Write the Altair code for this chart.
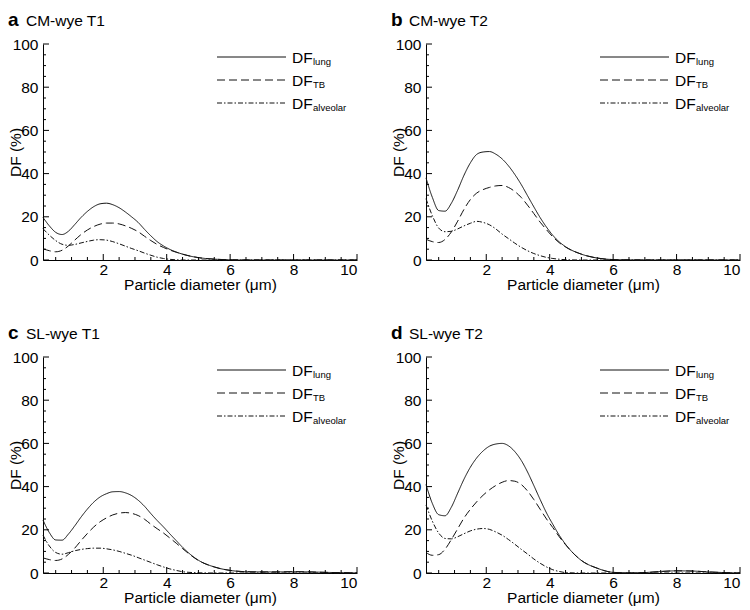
import altair as alt
import pandas as pd

# ---------------- data ----------------
X = [0.1, 0.3, 0.5, 0.7, 0.9, 1.1, 1.3, 1.5, 1.7, 1.9, 2.1, 2.3, 2.5, 2.7, 2.9,
     3.1, 3.3, 3.5, 3.7, 3.9, 4.1, 4.3, 4.5, 5.0, 5.5, 6.0, 6.5, 7.0, 7.5, 8.0,
     8.5, 9.0, 9.5, 10.0]

lung_a = [19.7, 15.8, 12.8, 11.8, 13.3, 16.4, 19.7, 22.5, 24.7, 26.0, 26.3, 25.6, 24.2, 22.2, 19.9,
          17.4, 14.2, 11.2, 8.5, 6.5, 4.9, 3.7, 2.7, 1.1, 0.4, 0.1, 0, 0, 0, 0, 0, 0, 0, 0]
tb_a = [5.2, 4.3, 3.8, 4.5, 6.5, 9.2, 11.8, 13.9, 15.5, 16.6, 17.1, 17.1, 16.7, 15.8, 14.6,
        13.1, 11.0, 9.0, 7.2, 5.8, 4.6, 3.6, 2.7, 1.1, 0.4, 0.1, 0, 0, 0, 0, 0, 0, 0, 0]
alv_a = [14.5, 11.5, 9.0, 7.3, 6.8, 7.2, 7.9, 8.6, 9.2, 9.4, 9.2, 8.5, 7.5, 6.4, 5.3,
         4.3, 3.2, 2.2, 1.3, 0.7, 0.3, 0.1, 0.0, 0, 0, 0, 0, 0, 0, 0, 0, 0, 0, 0]

lung_b = [38.0, 29.0, 22.9, 22.6, 26.3, 32.4, 39.3, 45.0, 48.9, 50.0, 50.2, 49.0, 46.8, 43.6, 39.6,
          35.0, 29.8, 24.6, 19.6, 15.2, 11.4, 8.4, 6.15, 2.7, 0.9, 0.2, 0.05, 0, 0, 0, 0, 0, 0, 0]
tb_b = [9.6, 8.5, 8.1, 9.5, 13.0, 18.0, 23.5, 28.0, 31.0, 32.6, 33.6, 34.3, 34.5, 33.6, 31.7,
        29.0, 25.4, 21.5, 17.5, 14.0, 10.7, 8.0, 6.0, 2.7, 0.9, 0.2, 0.05, 0, 0, 0, 0, 0, 0, 0]
alv_b = [28.4, 20.5, 14.8, 13.1, 13.3, 14.4, 15.8, 17.0, 17.9, 17.4, 16.3, 14.4, 12.0, 9.9, 7.8,
         5.9, 4.3, 3.0, 2.0, 1.2, 0.7, 0.35, 0.15, 0, 0, 0, 0, 0, 0, 0, 0, 0, 0, 0]

lung_c = [24.5, 18.7, 15.3, 15.2, 18.0, 21.8, 25.9, 29.6, 32.8, 35.2, 36.7, 37.6, 37.7, 37.1, 35.8,
          33.7, 30.9, 27.5, 24.3, 21.3, 18.1, 15.0, 11.9, 5.9, 2.8, 1.2, 0.6, 0.5, 0.5, 0.6, 0.5, 0.3, 0.15, 0.05]
tb_c = [7.0, 6.2, 5.8, 6.5, 8.6, 11.5, 15.0, 18.3, 21.3, 23.7, 25.5, 26.9, 27.7, 28.0, 27.6,
        26.6, 24.9, 22.6, 20.5, 18.5, 16.2, 13.8, 11.3, 5.8, 2.8, 1.2, 0.6, 0.5, 0.5, 0.6, 0.5, 0.3, 0.15, 0.05]
alv_c = [17.5, 12.5, 9.5, 8.7, 9.4, 10.3, 10.9, 11.3, 11.5, 11.5, 11.2, 10.7, 10.0, 9.1, 8.2,
         7.1, 6.0, 4.9, 3.8, 2.8, 1.9, 1.2, 0.6, 0.1, 0, 0, 0, 0, 0, 0, 0, 0, 0, 0]

lung_d = [41.0, 32.2, 27.0, 26.5, 30.5, 37.0, 43.5, 49.0, 53.3, 56.5, 58.7, 59.7, 60.0, 58.9, 56.2,
          52.2, 46.8, 40.5, 34.0, 27.8, 22.5, 17.5, 13.3, 5.8, 2.2, 0.3, 0.05, 0.2, 0.7, 1.0, 0.9, 0.5, 0.2, 0.0]
tb_d = [9.5, 8.2, 8.5, 11.0, 15.5, 20.5, 25.5, 29.5, 33.0, 36.0, 38.5, 40.5, 42.0, 42.8, 42.5,
        41.0, 38.0, 34.0, 29.5, 25.0, 21.0, 16.8, 13.1, 5.8, 2.2, 0.3, 0.05, 0.2, 0.7, 1.0, 0.9, 0.5, 0.2, 0.0]
alv_d = [31.5, 24.0, 18.5, 16.0, 15.8, 16.8, 18.2, 19.5, 20.3, 20.6, 20.2, 19.0, 17.5, 15.5, 13.3,
         11.0, 8.8, 6.5, 4.5, 2.8, 1.5, 0.7, 0.2, 0, 0, 0, 0, 0, 0, 0, 0, 0, 0, 0]

panels = [
    ("a", "CM-wye T1", lung_a, tb_a, alv_a),
    ("b", "CM-wye T2", lung_b, tb_b, alv_b),
    ("c", "SL-wye T1", lung_c, tb_c, alv_c),
    ("d", "SL-wye T2", lung_d, tb_d, alv_d),
]

series = ["lung", "TB", "alveolar"]
dashes = [[1, 0], [8, 4], [5, 2, 1.5, 2]]

x_major = [2, 4, 6, 8, 10]
x_minor = [0.5, 1, 1.5, 2.5, 3, 3.5, 4.5, 5, 5.5, 6.5, 7, 7.5, 8.5, 9, 9.5]
y_major = [0, 20, 40, 60, 80, 100]
y_minor = [5, 10, 15, 25, 30, 35, 45, 50, 55, 65, 70, 75, 85, 90, 95]

# ---------------- styling ----------------
W, H = 314, 216
FONT = "Liberation Sans"
INK = "#111111"
ONE = pd.DataFrame({"k": [0]})

XS = alt.Scale(domain=[0.1, 10], nice=False, zero=False)
YS = alt.Scale(domain=[0, 100], nice=False)
AX_X = alt.Axis(values=x_major, title="Particle diameter (μm)", ticks=False, tickSize=0,
                labelPadding=2, titlePadding=0, format="d", grid=False)
AX_Y = alt.Axis(values=y_major, title="DF (%)", ticks=False, tickSize=0, labelPadding=5,
                format="d", grid=False, titleX=-20, titleY=H / 2, titleAngle=270,
                titleBaseline="bottom", titleAlign="center")
XE = alt.X("x:Q", scale=XS, axis=AX_X)
YE = alt.Y("y:Q", scale=YS, axis=AX_Y)


def txt(s, x, y, size, weight="normal"):
    return alt.Chart(ONE).mark_text(
        text=s, font=FONT, fontSize=size, fontWeight=weight, align="left",
        baseline="alphabetic", color="black"
    ).encode(x=alt.value(x), y=alt.value(y))


def panel(letter, name, lung, tb, alv):
    n = len(X)
    df = pd.DataFrame({
        "x": X * 3,
        "y": lung + tb + alv,
        "s": ["lung"] * n + ["TB"] * n + ["alveolar"] * n,
    })
    lines = alt.Chart(df).mark_line(color=INK, strokeWidth=1, interpolate="monotone").encode(
        x=XE, y=YE,
        strokeDash=alt.StrokeDash("s:N", scale=alt.Scale(domain=series, range=dashes), legend=None),
        detail="s:N",
    )
    xt_maj = alt.Chart(pd.DataFrame({"x": x_major})).mark_rule(color="black", strokeWidth=1).encode(
        x=XE, y=alt.value(H), y2=alt.value(H - 6))
    xt_min = alt.Chart(pd.DataFrame({"x": x_minor})).mark_rule(color="black", strokeWidth=1).encode(
        x=XE, y=alt.value(H), y2=alt.value(H - 3))
    yt_maj = alt.Chart(pd.DataFrame({"y": y_major})).mark_rule(color="black", strokeWidth=1).encode(
        y=YE, x=alt.value(0), x2=alt.value(6))
    yt_min = alt.Chart(pd.DataFrame({"y": y_minor})).mark_rule(color="black", strokeWidth=1).encode(
        y=YE, x=alt.value(0), x2=alt.value(3))

    layers = [lines, xt_maj, xt_min, yt_maj, yt_min]
    for i, (sub, dash) in enumerate(zip(series, dashes)):
        yy = 13 + 23 * i
        layers.append(alt.Chart(ONE).mark_rule(color=INK, strokeWidth=1, strokeDash=dash).encode(
            x=alt.value(174), x2=alt.value(243), y=alt.value(yy)))
        layers.append(txt("DF", 249, yy + 5.5, 15.5))
        layers.append(txt(sub, 270, yy + 8, 9.5))
    layers.append(txt(letter, -35, -18, 19, "bold"))
    layers.append(txt(name, -17, -18, 15.5))
    return alt.layer(*layers).properties(width=W, height=H)


charts = [panel(*p) for p in panels]
chart = alt.concat(
    *charts, columns=2, spacing={"row": 97, "column": 69}, bounds="flush"
).configure_view(stroke=None).configure_axis(
    labelFont=FONT, titleFont=FONT, labelFontSize=15.5, titleFontSize=15.5,
    labelColor="black", titleColor="black", domainColor="black", domainWidth=1,
    titleFontWeight="normal", grid=False,
).properties(background="white", padding={"top": 3, "left": 0, "right": 0, "bottom": 0})

chart.save("out.html", embed_options={"renderer": "svg", "actions": False})
